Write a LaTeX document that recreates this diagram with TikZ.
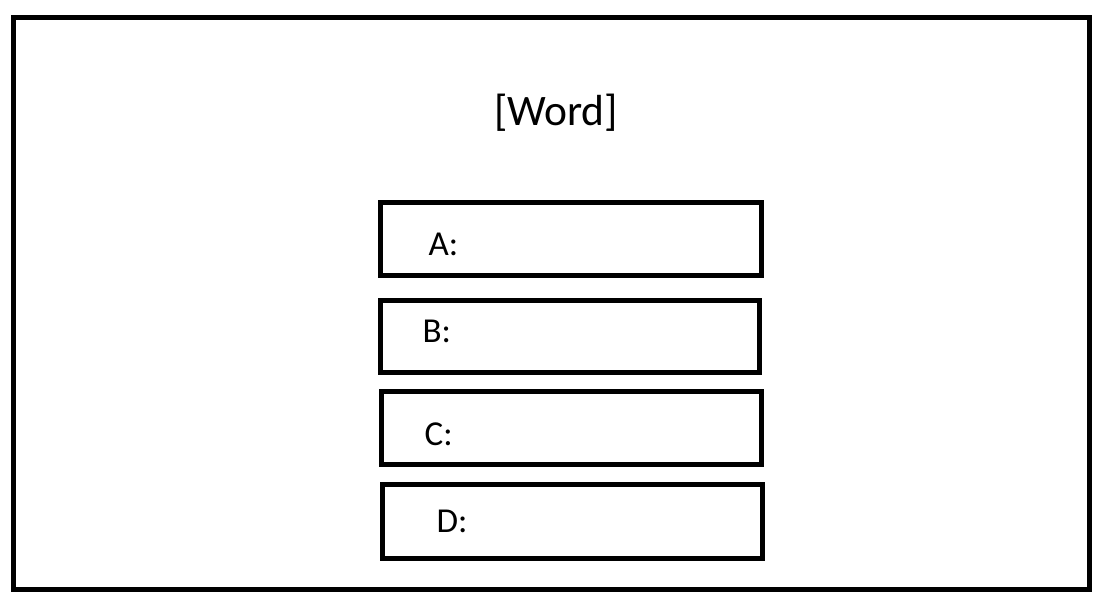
\documentclass[tikz,border=0pt]{standalone}
\usepackage{fontspec}
\setmainfont{Carlito}
\begin{document}
\begin{tikzpicture}[x=1pt,y=-1pt,
  frame/.style={draw=black,line width=5pt},
  optbox/.style={draw=black,line width=5pt},
  lbl/.style={anchor=base west,inner sep=0pt,font=\fontsize{35}{41}\selectfont},
  title/.style={anchor=base,inner sep=0pt,font=\fontsize{43.5}{52}\selectfont}]
\useasboundingbox (0,0) rectangle (1104,603);
\draw[frame] (13.5,17.5) rectangle (1089,589);
\node[title] (word) at (556,125.5) {[Word]};
\draw[optbox] (380.5,202.5) rectangle (761,275.5);
\draw[optbox] (380,300.5) rectangle (759,372);
\draw[optbox] (381,391) rectangle (761,464);
\draw[optbox] (382,484.5) rectangle (762,558);
\node[lbl] (a) at (428.5,255.5) {A:};
\node[lbl] (b) at (422.5,342) {B:};
\node[lbl] (c) at (424.5,445.5) {C:};
\node[lbl] (d) at (436.5,532) {D:};
\end{tikzpicture}
\end{document}
